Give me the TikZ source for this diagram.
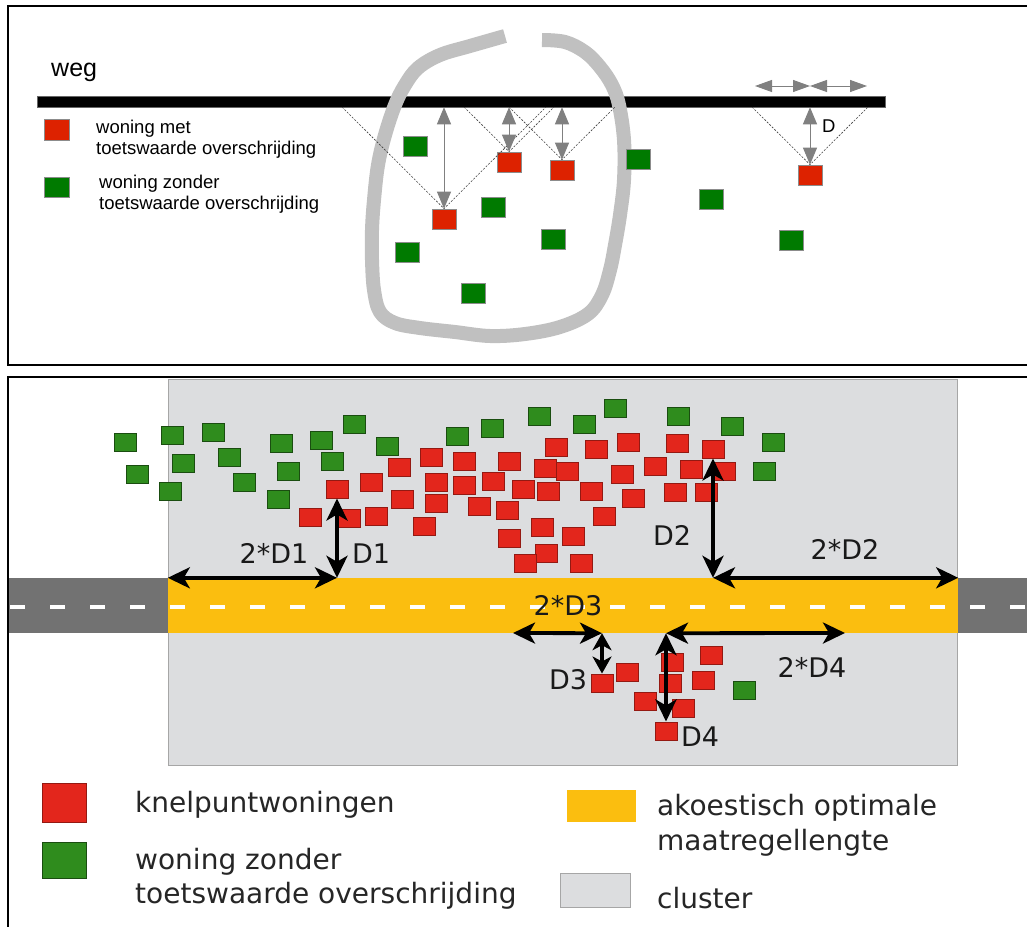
\documentclass[tikz,border=0pt]{standalone}
\usepackage{fontspec}
\setmainfont{Liberation Sans}
\newfontfamily\verd{DejaVu Sans}
\usetikzlibrary{arrows.meta}
\definecolor{tred}{HTML}{DD2200}
\definecolor{tgreen}{HTML}{007A00}
\definecolor{loopgray}{HTML}{C0C0C0}
\definecolor{bred}{HTML}{E3261C}
\definecolor{bgreen}{HTML}{2F8C1D}
\definecolor{clustergray}{HTML}{DCDDDF}
\definecolor{roadgray}{HTML}{727272}
\definecolor{amber}{HTML}{FBBE0F}
\begin{document}
\begin{tikzpicture}[x=1pt,y=-1pt,
  tsq/.style={minimum width=24pt,minimum height=20pt,inner sep=0pt,draw=black!45,line width=0.7pt},
  tr/.style={tsq,fill=tred},
  tg/.style={tsq,fill=tgreen},
  bsq/.style={minimum width=22pt,minimum height=18pt,inner sep=0pt,line width=1pt},
  br/.style={bsq,fill=bred,draw=bred!65!black},
  bg/.style={bsq,fill=bgreen,draw=bgreen!55!black},
  garrow/.style={draw=black!50,line width=1pt,{Triangle[length=17pt,width=14pt]}-{Triangle[length=17pt,width=14pt]}},
  hint/.style={draw=black!75,line width=0.6pt,dash pattern=on 2pt off 1.5pt},
  barrow/.style={draw=black,line width=3.8pt,{Stealth[length=22pt,width=21pt,inset=6pt]}-{Stealth[length=22pt,width=21pt,inset=6pt]}},
  sbarrow/.style={draw=black,line width=3.8pt,{Stealth[length=17pt,width=19pt,inset=5pt]}-{Stealth[length=17pt,width=19pt,inset=5pt]}},
  ttext/.style={anchor=base west,inner sep=0pt,font=\fontsize{18.5}{20}\selectfont},
  btext/.style={anchor=base west,inner sep=0pt,text=black!85,font=\verd\fontsize{28}{30}\selectfont},
  blabel/.style={anchor=base,inner sep=0pt,text=black!90,font=\verd\fontsize{27}{30}\selectfont}
]
\useasboundingbox (0,0) rectangle (1027,926);
\fill[white] (0,0) rectangle (1027,926);

% ================= TOP PANEL =================
\node[fill=black,draw=black!60,line width=0.5pt,minimum width=848pt,minimum height=11pt,inner sep=0pt] (road) at (461,101.5) {};
\node[ttext,font=\fontsize{25}{28}\selectfont] (weg) at (51,76) {weg};

% cluster outline (hand drawn loop)
\draw[line width=14pt,color=loopgray,line join=round] plot[smooth,tension=0.6] coordinates {
 (542,40) (565,42) (585,52) (600,67) (612,85) (619,105) (624,140) (624,180) (620,215)
 (615,245) (610,270) (602,295) (588,314) (560,327) (525,334) (490,336) (455,332)
 (420,328) (395,323) (380,312) (374,290) (372,260) (372,230) (374,200) (378,165)
 (385,135) (395,105) (405,85) (418,68) (440,55) (470,46) (505,36)};

% legend top
\node[tsq,fill=tred,minimum width=25pt,minimum height=21pt] (ltr) at (57,130) {};
\node[ttext] (ltr1) at (96,133) {woning met};
\node[ttext] (ltr2) at (96,154) {toetswaarde overschrijding};
\node[tsq,fill=tgreen,minimum width=25pt] (ltg) at (57,187) {};
\node[ttext] (ltg1) at (99,188) {woning zonder};
\node[ttext] (ltg2) at (99,209) {toetswaarde overschrijding};

% houses top
\foreach \x/\y [count=\i] in {415/146,493/207,553/239,407/252,473/293,638/159,711/199,791/240}
  \node[tg] (tg\i) at (\x,\y) {};
\node[tr] (tr1) at (444,219) {};
\node[tr] (tr2) at (509,162) {};
\node[tr] (tr3) at (562,170) {};
\node[tr] (tr4) at (810,175) {};

% 45 degree sight lines
\coordinate (c1l) at (342,107); \coordinate (c1r) at (546,107);
\coordinate (c2l) at (464,107); \coordinate (c2r) at (554,107);
\coordinate (c3l) at (509,107); \coordinate (c3r) at (615,107);
\coordinate (c4l) at (752,107); \coordinate (c4r) at (868,107);
\foreach \i in {1,2,3,4} {
  \draw[hint] (c\i l) -- (tr\i.north) -- (c\i r);
}
% distance arrows
\foreach \i in {1,2,3,4}
  \draw[garrow] (tr\i.north) -- (tr\i.north |- road.south);
\node[ttext] (dlab) at (822,132) {D};
\coordinate (h1) at (755,86); \coordinate (h2) at (810,86); \coordinate (h3) at (867,86);
\draw[draw=black!50,line width=1pt,{Triangle[length=17pt,width=12pt]}-{Triangle[length=17pt,width=12pt]}] (h1) -- (h2);
\draw[draw=black!50,line width=1pt,{Triangle[length=17pt,width=12pt]}-{Triangle[length=17pt,width=12pt]}] (h2) -- (h3);

\draw[line width=2pt] (8,6) rectangle (1040,365);

% ================= BOTTOM PANEL =================
\node[fill=clustergray,draw=black!35,line width=0.8pt,minimum width=789pt,minimum height=386pt,inner sep=0pt] (cl) at (562.5,572) {};
\fill[roadgray] (8,578) rectangle (1027,633);
\node[fill=amber,minimum width=790pt,minimum height=55pt,inner sep=0pt] (amb) at (563,605.5) {};
\draw[white,line width=4pt,dash pattern=on 15pt off 25pt] (10,607) -- (1027,607);

% green houses
\foreach \x/\y [count=\i] in {125/442,172/435,213/432,137/474,183/463,229/457,170/491,244/482,
  281/443,321/440,354/424,288/471,332/461,278/499,387/446,457/436,492/428,539/416,584/424,
  615/408,678/416,732/426,773/442,764/471,744/690}
  \node[bg] (bg\i) at (\x,\y) {};
% red houses
\foreach \x/\y [count=\i] in {310/517,349/518,371/482,376/516,399/467,431/457,464/461,509/461,
  402/499,436/482,464/485,493/481,436/503,479/506,507/510,424/526,509/538,523/489,548/491,
  545/468,567/471,556/447,596/449,628/442,677/443,622/474,655/466,691/469,724/471,591/491,
  633/498,675/492,706/492,604/516,542/527,573/536,546/553,525/563,581/563,
  627/672,672/662,711/655,670/683,703/680,645/701,683/708}
  \node[br] (br\i) at (\x,\y) {};
\node[br] (rd1) at (337,489) {};
\node[br] (rd2) at (713,449) {};
\node[br] (rd3) at (602,683) {};
\node[br] (rd4) at (666,731) {};

% distance arrows
\coordinate (e3) at (513,633);
\coordinate (e4) at (845,633);
\draw[barrow] (rd1.south) -- (rd1.south |- amb.north);
\draw[barrow] (amb.north west) -- (rd1.south |- amb.north);
\draw[barrow] (rd2.south) -- (rd2.south |- amb.north);
\draw[barrow] (rd2.south |- amb.north) -- (amb.north east);
\draw[barrow] (e3) -- (rd3.north |- amb.south);
\draw[sbarrow] (rd3.north |- amb.south) -- (rd3.north);
\draw[barrow] (rd4.north |- amb.south) -- (rd4.north);
\draw[barrow] (rd4.north |- amb.south) -- (e4);

\node[blabel] (l2d1) at (274,563) {2*D1};
\node[blabel] (ld1) at (371,563) {D1};
\node[blabel] (ld2) at (672,545) {D2};
\node[blabel] (l2d2) at (845,559) {2*D2};
\node[blabel] (l2d3) at (568,615) {2*D3};
\node[blabel] (ld3) at (568,689) {D3};
\node[blabel] (ld4) at (700,746) {D4};
\node[blabel] (l2d4) at (812,677) {2*D4};

% legend bottom
\node[fill=bred,draw=bred!65!black,line width=1pt,minimum width=44pt,minimum height=39pt,inner sep=0pt] (lbr) at (64,802.5) {};
\node[fill=bgreen,draw=bgreen!55!black,line width=1pt,minimum width=44pt,minimum height=36pt,inner sep=0pt] (lbg) at (64,860) {};
\node[fill=amber,minimum width=69pt,minimum height=32pt,inner sep=0pt] (lam) at (601.5,806) {};
\node[fill=clustergray,draw=black!35,line width=1pt,minimum width=70pt,minimum height=34pt,inner sep=0pt] (lcl) at (595,890) {};
\node[btext] (t1) at (135,812) {knelpuntwoningen};
\node[btext] (t2) at (135,869) {woning zonder};
\node[btext] (t3) at (135,903) {toetswaarde overschrijding};
\node[btext] (t4) at (657,815) {akoestisch optimale};
\node[btext] (t5) at (657,850) {maatregellengte};
\node[btext] (t6) at (657,908) {cluster};

\draw[line width=2pt] (8,377) rectangle (1040,940);
\end{tikzpicture}
\end{document}
